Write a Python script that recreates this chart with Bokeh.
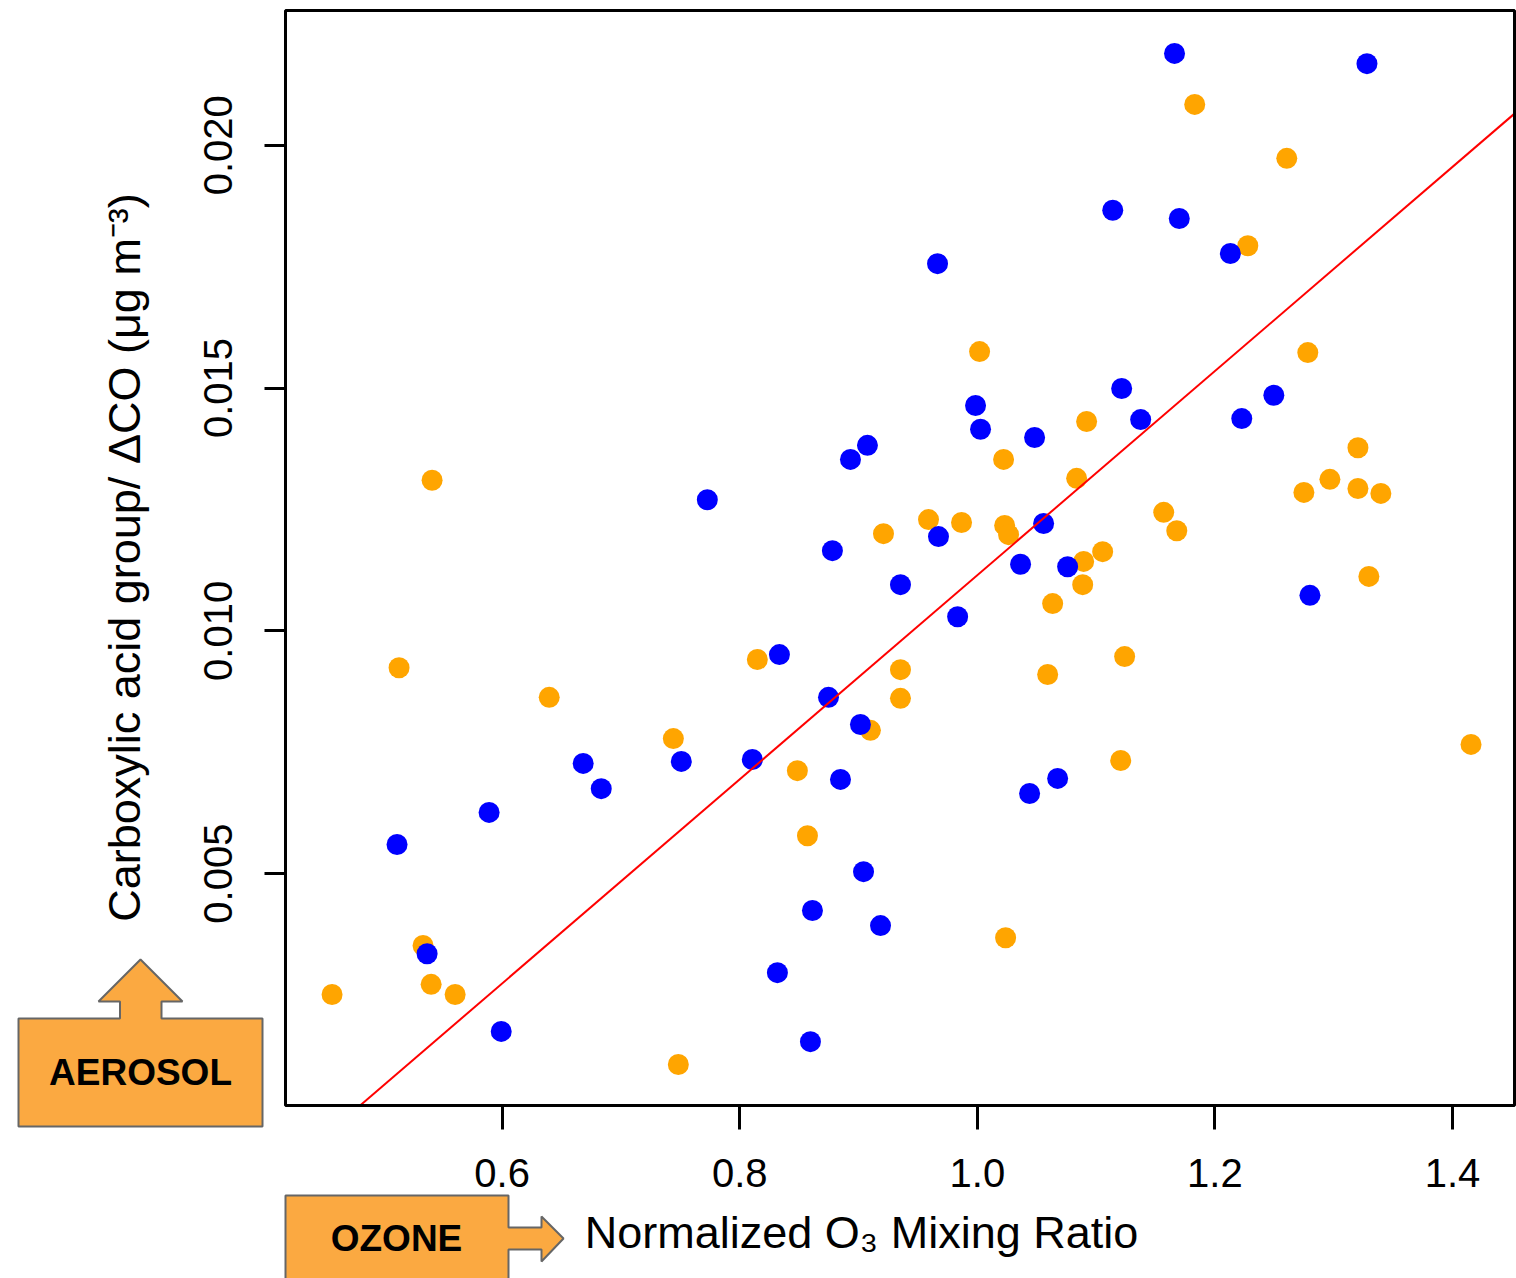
import math
from bokeh.plotting import figure
from bokeh.models import (Range1d, FixedTicker, PrintfTickFormatter, LinearAxis,
                          PolyAnnotation, BoxAnnotation, Label, ColumnDataSource)
from bokeh.embed import file_html
from bokeh.resources import INLINE

# ---------------- data ----------------
blue_x = [1.166, 1.328, 1.114, 1.170, 1.213, 0.9665, 1.1215, 1.2496, 0.9985, 1.1375,
          1.2226, 1.0027, 1.0482, 0.9075, 0.8932, 0.7727, 1.0558, 0.9673, 0.878, 1.0364,
          1.076, 0.9353, 0.9834, 1.280, 0.8334, 0.8747, 0.9016, 0.6682, 0.7508, 0.8106,
          0.6834, 0.8848, 1.0676, 1.044, 0.589, 0.5115, 0.9042, 0.8612, 0.9185, 0.5368,
          0.8317, 0.5992, 0.8595]
blue_y = [0.02189, 0.02168, 0.01866, 0.01849, 0.01777, 0.01756, 0.01499, 0.01485, 0.01464, 0.01435,
          0.01437, 0.01415, 0.01398, 0.01382, 0.01353, 0.01270, 0.01221, 0.01194, 0.01165, 0.01137,
          0.01132, 0.01095, 0.01029, 0.01073, 0.00951, 0.00863, 0.00807, 0.00727, 0.00731, 0.00735,
          0.00675, 0.00694, 0.00696, 0.00665, 0.00626, 0.00560, 0.00504, 0.00424, 0.00393, 0.00335,
          0.00296, 0.00175, 0.00154]

orange_x = [1.183, 1.2605, 1.2277, 1.0019, 1.2782, 1.092, 1.3204, 1.0221, 0.541, 1.0836,
            1.2968, 1.2749, 1.3204, 1.3397, 0.9589, 0.9867, 1.023, 1.1569, 0.921, 1.0263,
            1.1679, 1.1055, 1.0895, 1.0887, 1.0634, 1.3296, 0.8148, 1.124, 0.9353, 0.5132,
            1.0592, 0.6396, 0.9353, 0.7441, 0.910, 0.8485, 1.1207, 1.4156, 0.857, 1.0238,
            0.5334, 0.5402, 0.5604, 0.4568, 0.7483]
orange_y = [0.02084, 0.01973, 0.01793, 0.01575, 0.01573, 0.01431, 0.01377, 0.01353, 0.01310, 0.01314,
            0.01312, 0.01285, 0.01293, 0.01283, 0.01229, 0.01223, 0.01217, 0.01244, 0.01200, 0.01198,
            0.01206, 0.01163, 0.01143, 0.01095, 0.01056, 0.01112, 0.00941, 0.00947, 0.00920, 0.00924,
            0.00910, 0.00863, 0.00861, 0.00778, 0.00795, 0.00712, 0.00733, 0.00766, 0.00578, 0.00368,
            0.00352, 0.00272, 0.00251, 0.00251, 0.00107]

fit_slope = 0.021018
fit_intercept = -0.009872

x_ticks = [0.6, 0.8, 1.0, 1.2, 1.4]
y_ticks = [0.005, 0.010, 0.015, 0.020]

x_title = "Normalized O\u2083 Mixing Ratio"
y_title = "Carboxylic acid group/ \u0394CO (\u03bcg m\u207b\u00b3)"
aerosol_text = "AEROSOL"
ozone_text = "OZONE"

# ---------------- layout ----------------
W, H = 1516, 1278
L, R, T, B = 285, 1514, 10, 1105          # plot box in canvas pixels
X0, X1 = 0.4176, 1.4522                   # data limits of the plot box
Y0, Y1 = 0.000225, 0.022774

FONT = "Liberation Sans"

def px2x(px):
    return X0 + (px - L) / (R - L) * (X1 - X0)

def py2y(py):
    return Y0 + (B - py) / (B - T) * (Y1 - Y0)

# the frame covers the whole canvas so that the side notes are not clipped
p = figure(width=W, height=H, output_backend="svg", toolbar_location=None,
           x_range=Range1d(px2x(0), px2x(W)), y_range=Range1d(py2y(H), py2y(0)),
           x_axis_location=None, y_axis_location=None,
           min_border=0, min_border_left=0, min_border_right=0,
           min_border_top=0, min_border_bottom=0)

p.background_fill_color = "white"
p.border_fill_color = "white"
p.outline_line_color = None
p.grid.visible = False

xaxis = LinearAxis(fixed_location=Y0, ticker=FixedTicker(ticks=x_ticks),
                   formatter=PrintfTickFormatter(format="%.1f"))
yaxis = LinearAxis(fixed_location=X0, ticker=FixedTicker(ticks=y_ticks),
                   formatter=PrintfTickFormatter(format="%.3f"))
for ax in (xaxis, yaxis):
    ax.axis_line_color = None
    ax.major_tick_line_color = "black"
    ax.major_tick_line_width = 3
    ax.major_tick_in = 0
    ax.minor_tick_line_color = None
    ax.major_label_text_font = FONT
    ax.major_label_text_color = "black"
xaxis.major_tick_out = 24
yaxis.major_tick_out = 21
xaxis.major_label_text_font_size = "40px"
yaxis.major_label_text_font_size = "40px"
xaxis.major_label_standoff = 29
yaxis.major_label_standoff = 32
yaxis.major_label_orientation = "vertical"

p.add_layout(xaxis, "below")
p.add_layout(yaxis, "left")

# plot box
p.add_layout(BoxAnnotation(left=X0, right=X1, bottom=Y0, top=Y1,
                           fill_color=None, line_color="black", line_alpha=1.0,
                           line_width=3))

# points
src_o = ColumnDataSource(dict(x=orange_x, y=orange_y))
src_b = ColumnDataSource(dict(x=blue_x, y=blue_y))
p.scatter("x", "y", source=src_o, size=21, fill_color="#FFA500", line_color=None)
p.scatter("x", "y", source=src_b, size=21, fill_color="#0000FF", line_color=None)

# regression line, limited to the plot box
x_start = max(X0, (Y0 - fit_intercept) / fit_slope)
x_end = min(X1, (Y1 - fit_intercept) / fit_slope)
fit_x = [x_start, x_end]
fit_y = [fit_intercept + fit_slope * v for v in fit_x]
p.line(fit_x, fit_y, line_color="#FF0000", line_width=2)

# axis titles
p.add_layout(Label(x=px2x(861), y=py2y(1232), text=x_title,
                   text_align="center", text_baseline="middle",
                   text_font=FONT, text_font_size="45px", text_color="black"))
p.add_layout(Label(x=px2x(124), y=py2y(557), text=y_title, angle=math.pi / 2,
                   text_align="center", text_baseline="middle",
                   text_font=FONT, text_font_size="45px", text_color="black"))

# AEROSOL box with up arrow
aer_px = [18, 18, 119.5, 119.5, 98, 140, 182, 161, 161, 262, 262]
aer_py = [1126, 1018, 1018, 1001, 1001, 959, 1001, 1001, 1018, 1018, 1126]
p.add_layout(PolyAnnotation(xs=[px2x(v) for v in aer_px], ys=[py2y(v) for v in aer_py],
                            fill_color="#FBA941", fill_alpha=1.0,
                            line_color="#666666", line_alpha=1.0, line_width=2))
p.add_layout(Label(x=px2x(140), y=py2y(1072), text=aerosol_text,
                   text_align="center", text_baseline="middle",
                   text_font=FONT, text_font_size="37px", text_font_style="bold",
                   text_color="black"))

# OZONE box with right arrow
oz_px = [285, 508, 508, 541, 541, 563, 541, 541, 508, 508, 285]
oz_py = [1195, 1195, 1227, 1227, 1216, 1238, 1261, 1249, 1249, 1300, 1300]
p.add_layout(PolyAnnotation(xs=[px2x(v) for v in oz_px], ys=[py2y(v) for v in oz_py],
                            fill_color="#FBA941", fill_alpha=1.0,
                            line_color="#666666", line_alpha=1.0, line_width=2))
p.add_layout(Label(x=px2x(396), y=py2y(1238), text=ozone_text,
                   text_align="center", text_baseline="middle",
                   text_font=FONT, text_font_size="37px", text_font_style="bold",
                   text_color="black"))

open("out.html", "w").write(file_html(p, INLINE))
